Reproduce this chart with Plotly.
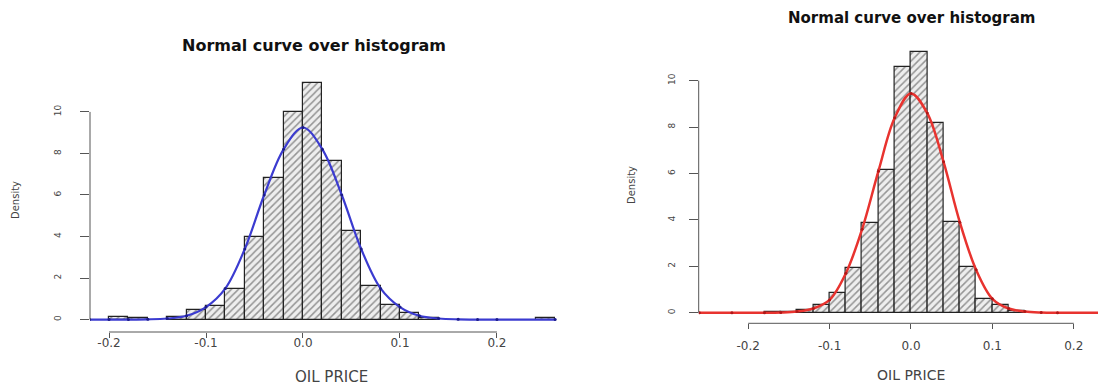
import plotly.graph_objects as go

# ---------------- data ----------------
bin_width = 0.02
tick_vals_x = [-0.2, -0.1, 0.0, 0.1, 0.2]
tick_text_x = ["-0.2", "-0.1", "0.0", "0.1", "0.2"]
tick_vals_y = [0, 2, 4, 6, 8, 10]
tick_text_y = ["0", "2", "4", "6", "8", "10"]

left_bin_start = [-0.20, -0.18, -0.14, -0.12, -0.10, -0.08, -0.06, -0.04, -0.02, 0.00,
                  0.02, 0.04, 0.06, 0.08, 0.10, 0.12, 0.24]
left_density = [0.10, 0.06, 0.13, 0.48, 0.64, 1.47, 4.0, 6.83, 10.0, 11.4,
                7.62, 4.26, 1.6, 0.72, 0.32, 0.06, 0.08]

left_curve_x = [-0.22, -0.20, -0.18, -0.16, -0.14, -0.12, -0.10, -0.08, -0.06, -0.04, -0.02,
                0.00, 0.02, 0.04, 0.06, 0.08, 0.10, 0.12, 0.14, 0.16, 0.18, 0.20, 0.26]
left_curve_y = [0.0, 0.0, 0.0, 0.01, 0.05, 0.18, 0.6, 1.5, 3.4, 6.0, 8.2,
                9.25, 8.2, 6.0, 3.4, 1.5, 0.6, 0.18, 0.05, 0.01, 0.0, 0.0, 0.0]

right_bin_start = [-0.18, -0.16, -0.14, -0.12, -0.10, -0.08, -0.06, -0.04, -0.02, 0.00,
                   0.02, 0.04, 0.06, 0.08, 0.10, 0.12]
right_density = [0.05, 0.03, 0.10, 0.33, 0.84, 1.91, 3.85, 6.15, 10.6, 11.25,
                 8.16, 3.92, 1.98, 0.58, 0.32, 0.06]

right_curve_x = [-0.26, -0.22, -0.18, -0.16, -0.14, -0.12, -0.10, -0.08, -0.06, -0.04, -0.02,
                 0.00, 0.02, 0.04, 0.06, 0.08, 0.10, 0.12, 0.14, 0.16, 0.18, 0.24]
right_curve_y = [0.0, 0.0, 0.0, 0.01, 0.05, 0.18, 0.55, 1.7, 3.6, 6.1, 8.4,
                 9.45, 8.6, 6.5, 3.9, 1.85, 0.6, 0.18, 0.05, 0.01, 0.0, 0.0]

title_text = "Normal curve over histogram"
x_title = "OIL PRICE"
y_title = "Density"

# ---------------- figure ----------------
# the page body has an 8px default margin, so the figure is shifted by it
OFF = 8
W, H = 1106 - OFF, 385 - OFF
fig = go.Figure()

pattern = dict(shape="/", fgcolor="#3a3a3a", bgcolor="#eeeeee", size=5, solidity=0.3)

fig.add_trace(go.Bar(x=left_bin_start, y=left_density, width=bin_width, offset=0,
                     marker=dict(color="#eeeeee", pattern=pattern,
                                 line=dict(color="#222222", width=1.2)),
                     xaxis="x", yaxis="y", showlegend=False))
fig.add_trace(go.Scatter(x=left_curve_x, y=left_curve_y, mode="lines+markers",
                         line=dict(color="#3b3bd0", width=2.2, shape="spline", smoothing=1.0),
                         marker=dict(color="#1c1c8a", size=3),
                         xaxis="x", yaxis="y", showlegend=False))

fig.add_trace(go.Bar(x=right_bin_start, y=right_density, width=bin_width, offset=0,
                     marker=dict(color="#eeeeee", pattern=pattern,
                                 line=dict(color="#222222", width=1.2)),
                     xaxis="x2", yaxis="y2", showlegend=False))
fig.add_trace(go.Scatter(x=right_curve_x, y=right_curve_y, mode="lines+markers",
                         line=dict(color="#e8332f", width=2.5, shape="spline", smoothing=1.0),
                         marker=dict(color="#b01818", size=3),
                         xaxis="x2", yaxis="y2", showlegend=False))


def px_x(p):
    return (p - OFF) / W


def px_y(p):
    return 1 - (p - OFF) / H


tick_font = dict(family="DejaVu Sans", size=12, color="#444444")
ytick_font = dict(family="DejaVu Sans", size=9, color="#444444")

common_x = dict(tickmode="array", tickvals=tick_vals_x, ticktext=tick_text_x,
                showline=False, showgrid=False, zeroline=False, ticks="outside",
                ticklen=5, tickcolor="#555555", tickwidth=1, tickfont=tick_font,
                fixedrange=True)
common_y = dict(tickmode="array", tickvals=tick_vals_y, ticktext=tick_text_y,
                showline=False, showgrid=False, zeroline=False, ticks="outside",
                ticklen=9, tickcolor="#555555", tickwidth=1, tickfont=ytick_font,
                tickangle=-90, fixedrange=True)

xa1 = dict(domain=[px_x(90), px_x(557)], range=[-0.2196, 0.2619])
ya1 = dict(domain=[px_y(332), px_y(70)], range=[-0.60, 12.02])
xa2 = dict(domain=[px_x(698.7), px_x(1106)], range=[-0.2608, 0.2396])
ya2 = dict(domain=[px_y(323.3), px_y(40)], range=[-0.457, 11.75])

fig.update_layout(
    width=W, height=H,
    margin=dict(l=0, r=0, t=0, b=0),
    paper_bgcolor="white", plot_bgcolor="white",
    bargap=0,
    xaxis=dict(anchor="y", ticklabelstandoff=-5, **xa1, **common_x),
    yaxis=dict(anchor="x", ticklabelstandoff=15, **ya1, **common_y),
    xaxis2=dict(anchor="y2", ticklabelstandoff=6, **xa2, **common_x),
    yaxis2=dict(anchor="x2", ticklabelstandoff=10, **ya2, **common_y),
)


def data_to_paper(v, ax):
    (d0, d1), (r0, r1) = ax["domain"], ax["range"]
    return d0 + (v - r0) / (r1 - r0) * (d1 - d0)


# R-style axis lines spanning only the tick range (paper refs, so not clipped)
axis_line = dict(color="#555555", width=1)
for xa, ya in ((xa1, ya1), (xa2, ya2)):
    fig.add_shape(type="line", xref="paper", yref="paper",
                  x0=data_to_paper(tick_vals_x[0], xa), x1=data_to_paper(tick_vals_x[-1], xa),
                  y0=ya["domain"][0], y1=ya["domain"][0], line=axis_line)
    fig.add_shape(type="line", xref="paper", yref="paper",
                  x0=xa["domain"][0], x1=xa["domain"][0],
                  y0=data_to_paper(tick_vals_y[0], ya), y1=data_to_paper(tick_vals_y[-1], ya),
                  line=axis_line)

annots = [
    dict(text="<b>" + title_text + "</b>", x=px_x(314), y=px_y(45),
         font=dict(family="DejaVu Sans", size=16, color="#111111")),
    dict(text="<b>" + title_text + "</b>", x=px_x(912), y=px_y(18),
         font=dict(family="DejaVu Sans", size=15, color="#111111")),
    dict(text=x_title, x=px_x(331), y=px_y(377),
         font=dict(family="DejaVu Sans", size=15, color="#444444")),
    dict(text=x_title, x=px_x(911), y=px_y(375),
         font=dict(family="DejaVu Sans", size=14, color="#444444")),
    dict(text=y_title, x=px_x(15), y=px_y(200), textangle=-90,
         font=dict(family="DejaVu Sans", size=10, color="#444444")),
    dict(text=y_title, x=px_x(632), y=px_y(185), textangle=-90,
         font=dict(family="DejaVu Sans", size=10, color="#444444")),
]
for a in annots:
    fig.add_annotation(xref="paper", yref="paper", xanchor="center", yanchor="middle",
                       showarrow=False, **a)

fig.write_html("out.html")
